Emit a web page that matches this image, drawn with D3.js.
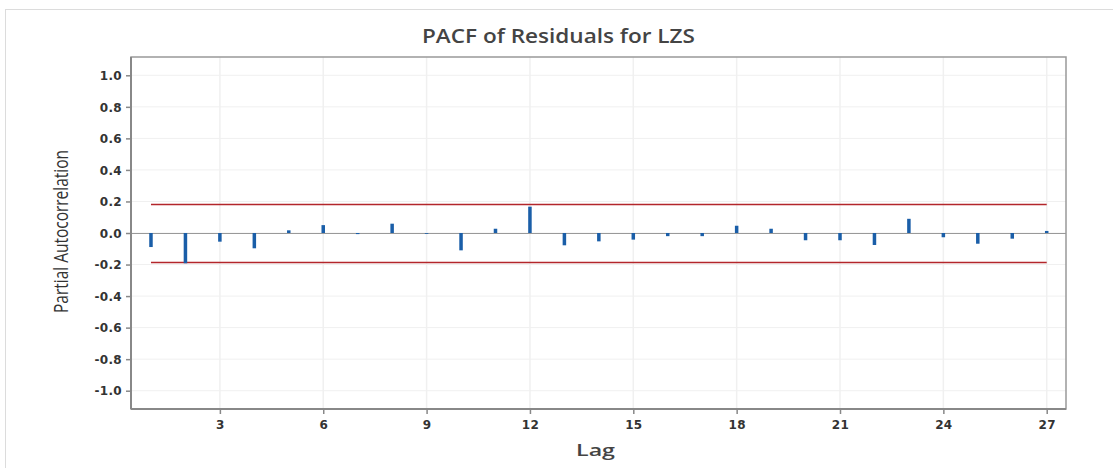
<!DOCTYPE html>
<html><head><meta charset="utf-8">
<script src="https://cdn.jsdelivr.net/npm/d3@7"></script>
<style>body{margin:0;background:#fff;}</style>
</head><body>
<svg id="c" width="1113" height="468"></svg>
<script>
const lags = d3.range(1, 28);
const pacf = [-0.089,-0.192,-0.055,-0.097,0.017,0.050,-0.007,0.059,-0.005,-0.110,
  0.027,0.167,-0.078,-0.053,-0.042,-0.020,-0.020,0.046,0.027,-0.046,
  -0.046,-0.076,0.090,-0.027,-0.068,-0.036,0.013];
const limit = 0.187;
const xTicks = [3,6,9,12,15,18,21,24,27];
const yTicks = [1.0,0.8,0.6,0.4,0.2,0.0,-0.2,-0.4,-0.6,-0.8,-1.0];

const svg = d3.select("#c");
const L=131, R=1066, T=57, B=409;
const x = d3.scaleLinear().domain([0.42, 27.56]).range([L, R]);
const y = d3.scaleLinear().domain([-1.116, 1.116]).range([B, T]);

// outer frame
svg.append("rect").attr("x",5.5).attr("y",9.5).attr("width",1120).attr("height",470)
  .attr("fill","none").attr("stroke","#dcdcdc").attr("stroke-width",1);

// gridlines
svg.append("g").selectAll("line").data(yTicks).join("line")
  .attr("x1",L).attr("x2",R).attr("y1",d=>y(d)).attr("y2",d=>y(d))
  .attr("stroke","#f0f0f0").attr("stroke-width",1);
svg.append("g").selectAll("line").data(xTicks).join("line")
  .attr("y1",T).attr("y2",B).attr("x1",d=>x(d)).attr("x2",d=>x(d))
  .attr("stroke","#f0f0f0").attr("stroke-width",1.5);

// zero line
svg.append("line").attr("x1",L).attr("x2",R).attr("y1",Math.round(y(0))+0.5).attr("y2",Math.round(y(0))+0.5)
  .attr("stroke","#999").attr("stroke-width",1);

// limits
svg.append("g").selectAll("line").data([limit,-limit]).join("line")
  .attr("x1",x(1)).attr("x2",x(27))
  .attr("y1",d=>Math.round(y(d))+0.5).attr("y2",d=>Math.round(y(d))+0.5)
  .attr("stroke","#b3262b").attr("stroke-width",1.3);

// bars
svg.append("g").selectAll("rect").data(lags).join("rect")
  .attr("x",d=>x(d)-1.75).attr("width",3.5)
  .attr("y",(d,i)=>y(Math.max(0,pacf[i])))
  .attr("height",(d,i)=>Math.abs(y(pacf[i])-y(0)))
  .attr("fill","#1a5ea8");

// frame
svg.append("rect").attr("x",L).attr("y",T).attr("width",R-L).attr("height",B-T)
  .attr("fill","none").attr("stroke","#999").attr("stroke-width",1.5);
svg.append("line").attr("x1",L).attr("x2",L).attr("y1",T).attr("y2",B).attr("stroke","#888").attr("stroke-width",2);
svg.append("line").attr("x1",L).attr("x2",R).attr("y1",B).attr("y2",B).attr("stroke","#888").attr("stroke-width",2);

// axes
const ya = svg.append("g").attr("transform",`translate(${L},0)`)
  .call(d3.axisLeft(y).tickValues(yTicks).tickFormat(d3.format(".1f")).tickSize(5).tickPadding(4));
const xa = svg.append("g").attr("transform",`translate(0,${B})`)
  .call(d3.axisBottom(x).tickValues(xTicks).tickFormat(d3.format("d")).tickSize(5).tickPadding(6));
[ya,xa].forEach(a=>{
  a.select(".domain").remove();
  a.selectAll(".tick line").attr("stroke","#888").attr("stroke-width",1.5);
  a.selectAll("text").attr("font-family","Verdana, 'DejaVu Sans', sans-serif")
    .attr("font-size",12).attr("font-weight","bold").attr("fill","#333").attr("letter-spacing","0.3");
});
ya.selectAll("text").attr("dy","0.35em").text(d=> d3.format(".1f")(d).replace("−","-"));

// title
svg.append("text").attr("x",558.5).attr("y",43).attr("text-anchor","middle")
  .attr("font-family","'Open Sans', 'DejaVu Sans', sans-serif").attr("font-weight","600")
  .attr("font-size",19).attr("fill","#444")
  .attr("textLength",273).attr("lengthAdjust","spacingAndGlyphs")
  .text("PACF of Residuals for LZS");
// x label
svg.append("text").attr("x",595.5).attr("y",456).attr("text-anchor","middle")
  .attr("font-family","'Open Sans', 'DejaVu Sans', sans-serif").attr("font-weight","600")
  .attr("font-size",17).attr("fill","#444")
  .attr("textLength",39).attr("lengthAdjust","spacingAndGlyphs").text("Lag");
// y label
svg.append("text").attr("transform","translate(68,231.5) rotate(-90)").attr("text-anchor","middle")
  .attr("font-family","'Open Sans', 'DejaVu Sans', sans-serif")
  .attr("font-size",20).attr("fill","#333")
  .attr("textLength",163).attr("lengthAdjust","spacingAndGlyphs")
  .text("Partial Autocorrelation");
</script>
</body></html>
